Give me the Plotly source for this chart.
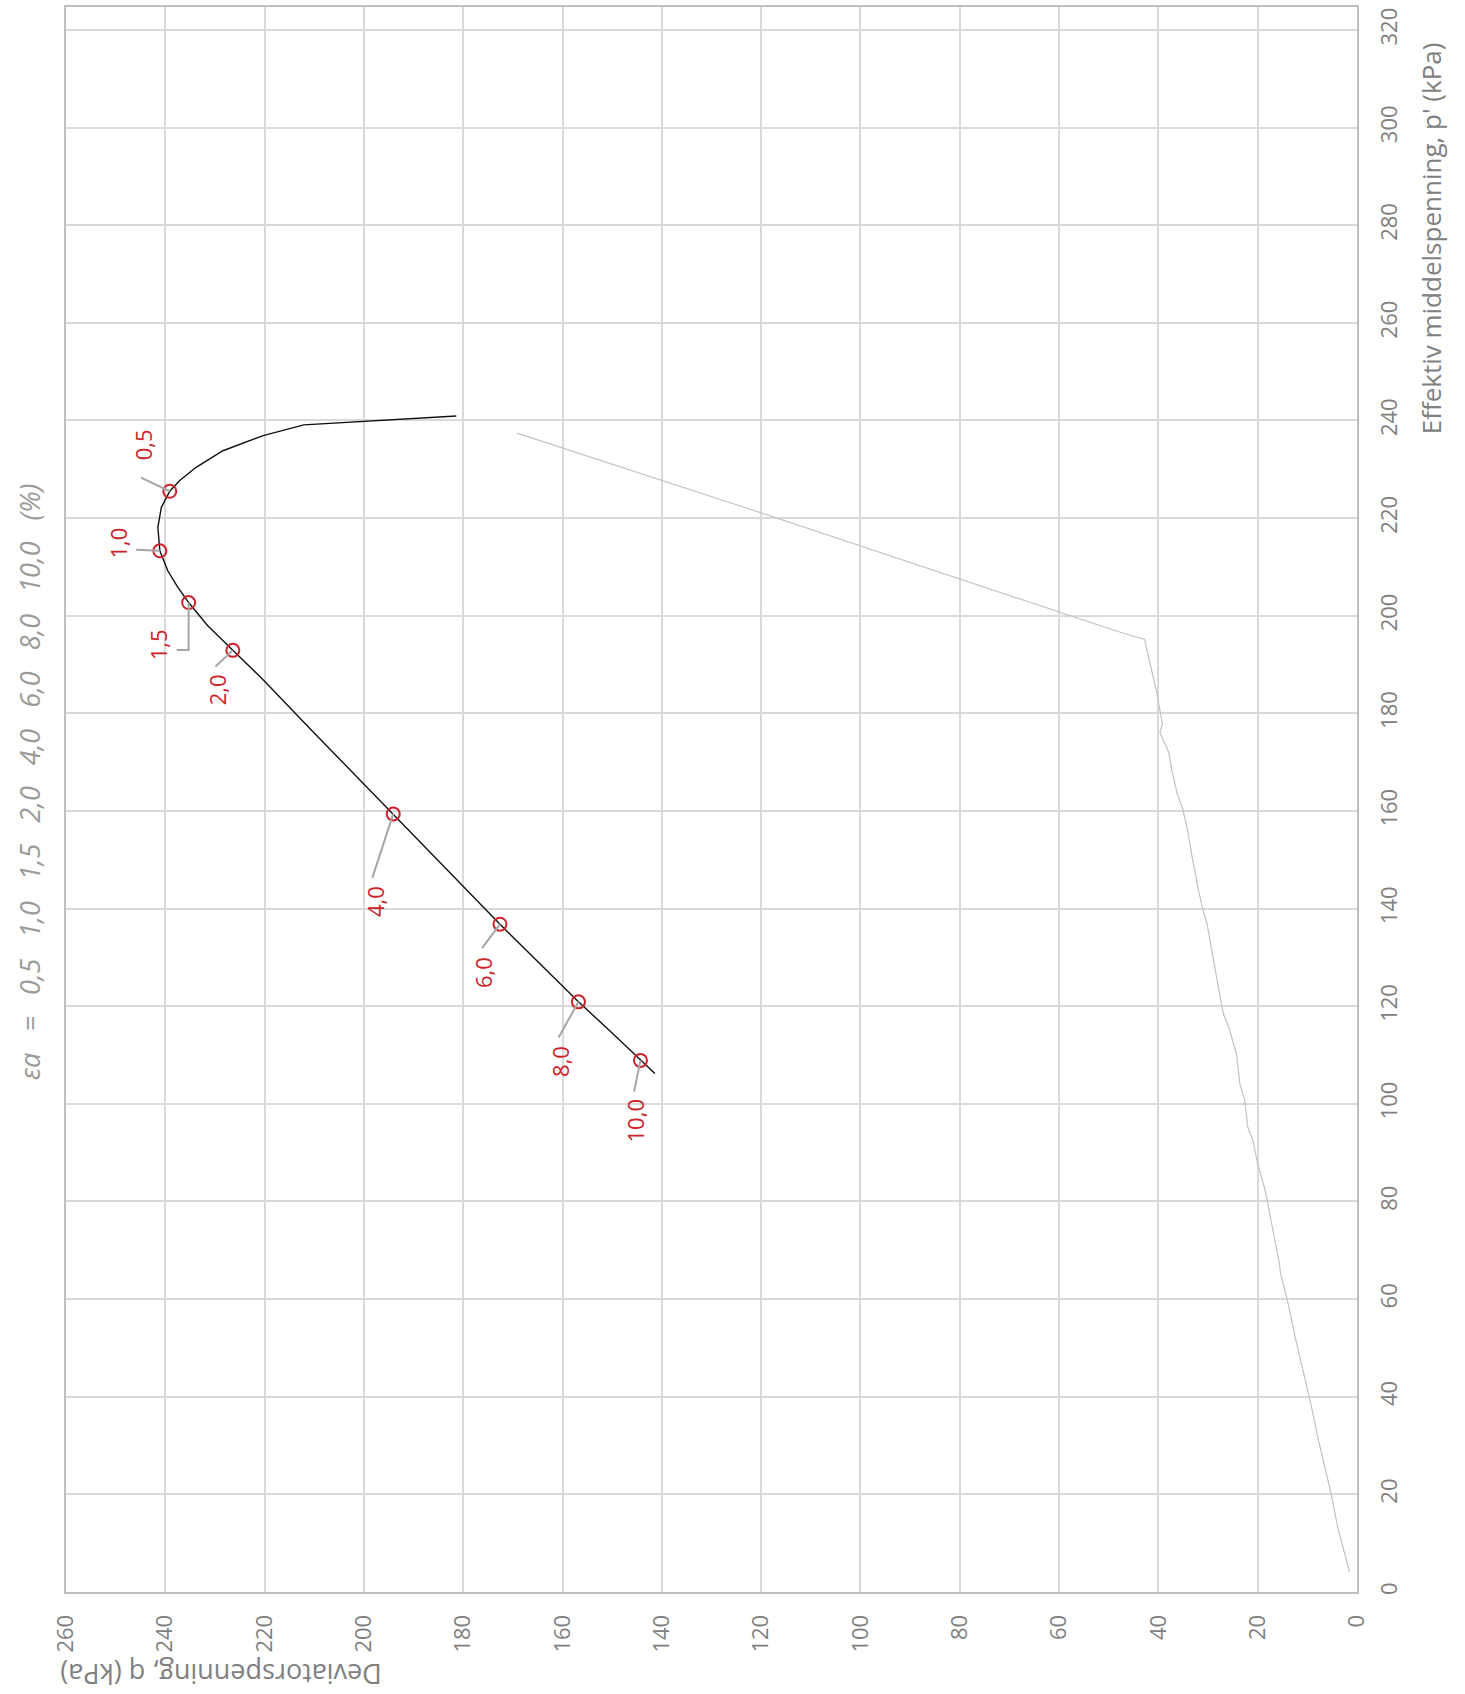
import plotly.graph_objects as go

# Effective stress path (black): q (kPa) and p' (kPa)
esp_q = [181.4, 212.1, 220.3, 228.4, 233.8, 237.1, 239.1, 240.8, 241.5, 241.1, 239.5, 237.6, 235.3,
         231.5, 226.4, 220.3, 210.6, 200.8, 194.1, 183.4, 172.6, 164.7, 156.8, 150.5, 144.3, 141.4]
esp_p = [240.9, 239.1, 236.9, 233.8, 230.4, 227.7, 225.5, 222.2, 218.1, 213.3, 209.2, 206.0, 202.7,
         198.0, 192.9, 186.9, 176.6, 166.4, 159.4, 148.1, 136.8, 128.8, 120.9, 115.0, 108.9, 106.2]

# Total stress path (grey)
tsp_q = [1.5, 2.6, 3.9, 5.2, 6.7, 7.9, 9.3, 10.6, 12.3, 14.0, 15.4, 15.6, 17.3, 18.5, 20.0,
         21.0, 22.0, 22.6, 23.6, 24.2, 25.8, 26.9, 27.8, 28.5, 30.2, 31.0, 31.9, 33.2, 34.1,
         35.1, 36.2, 37.4, 37.9, 39.7, 39.2, 40.4, 42.8, 46.7, 51.8, 122.2, 169.2]
tsp_p = [4.1, 8.5, 13.3, 20.1, 26.3, 31.7, 38.6, 44.0, 51.5, 59.7, 65.2, 67.2, 76.1, 82.3, 87.7,
         92.6, 95.2, 100.7, 104.1, 109.9, 115.7, 118.4, 123.2, 127.3, 136.9, 139.6, 143.7, 150.5, 156.0,
         160.4, 163.5, 168.9, 172.0, 176.1, 177.8, 184.6, 195.2, 196.3, 198.0, 221.8, 237.4]

# Strain markers
strain_labels = ["0,5", "1,0", "1,5", "2,0", "4,0", "6,0", "8,0", "10,0"]
mark_q = [239.1, 241.1, 235.3, 226.4, 194.1, 172.6, 156.8, 144.3]
mark_p = [225.5, 213.3, 202.7, 192.9, 159.4, 136.8, 120.9, 108.9]

# Label placement (q, p') and leader line start points
lab_q = [244.6, 249.5, 241.4, 229.7, 197.9, 176.0, 160.5, 145.4]
lab_p = [235.0, 214.8, 194.0, 184.8, 141.4, 126.8, 108.6, 96.4]
lead_q = [244.9, 245.9, 237.7, 229.9, 198.3, 176.2, 160.8, 145.6]
lead_p = [228.3, 213.5, 193.0, 189.6, 146.3, 131.9, 113.6, 102.5]

q_ticks = list(range(0, 261, 20))
p_ticks = list(range(0, 321, 20))

RED = "#cc2229"
GREY_TXT = "#808080"
FONT = "Open Sans"

fig = go.Figure()
fig.add_trace(go.Scatter(x=tsp_q, y=tsp_p, mode="lines",
                         line=dict(color="#c3c3c3", width=1.2), hoverinfo="skip"))
fig.add_trace(go.Scatter(x=esp_q, y=esp_p, mode="lines",
                         line=dict(color="#111111", width=1.4), hoverinfo="skip"))

shapes = []
for i in range(len(strain_labels)):
    if strain_labels[i] == "1,5":
        path = (f"M {lead_q[i]},{lead_p[i]} L {mark_q[i]},{lead_p[i]} L {mark_q[i]},{mark_p[i]}")
    else:
        path = f"M {lead_q[i]},{lead_p[i]} L {mark_q[i]},{mark_p[i]}"
    shapes.append(dict(type="path", path=path, xref="x", yref="y",
                       line=dict(color="#a6a6a6", width=2), layer="above"))

fig.add_trace(go.Scatter(x=mark_q, y=mark_p, mode="markers",
                         marker=dict(symbol="circle-open", size=13, color=RED,
                                     line=dict(width=2, color=RED)),
                         hoverinfo="skip"))

annotations = []
for i in range(len(strain_labels)):
    annotations.append(dict(x=lab_q[i], y=lab_p[i], xref="x", yref="y", text=strain_labels[i],
                            showarrow=False, textangle=-90, xanchor="center", yanchor="middle",
                            font=dict(family=FONT, size=22, color=RED)))

annotations.append(dict(x=0.12, y=-0.052, xref="paper", yref="paper",
                        text="Deviatorspenning, q (kPa)", showarrow=False, textangle=180,
                        xanchor="center", yanchor="middle",
                        font=dict(family=FONT, size=27, color=GREY_TXT)))
annotations.append(dict(x=1.058, y=0.854, xref="paper", yref="paper",
                        text="Effektiv middelspenning, p' (kPa)", showarrow=False, textangle=-90,
                        xanchor="center", yanchor="middle",
                        font=dict(family=FONT, size=26, color=GREY_TXT)))
sp = "\u00a0\u00a0\u00a0"
annotations.append(dict(x=-0.0287, y=0.511, xref="paper", yref="paper",
                        text="<i>" + "εa" + sp + "=" + sp + sp.join(["0,5", "1,0", "1,5", "2,0", "4,0", "6,0", "8,0", "10,0"]) + sp + "(%)</i>",
                        showarrow=False, textangle=-90, xanchor="center", yanchor="middle",
                        font=dict(family=FONT, size=27, color="#9a9a9a")))

fig.update_layout(
    width=1465, height=1694,
    margin=dict(l=66, r=108, t=7, b=102, autoexpand=False),
    paper_bgcolor="white", plot_bgcolor="white",
    showlegend=False,
    shapes=shapes, annotations=annotations,
    xaxis=dict(range=[260, 0], tickvals=q_ticks, ticktext=[str(v) for v in q_ticks],
               tickangle=-90, showgrid=True, gridcolor="#d9d9d9", gridwidth=1.5,
               zeroline=False, showline=True, linecolor="#bfbfbf", linewidth=2, mirror=True,
               ticks="", ticklabelstandoff=12, automargin=False,
               tickfont=dict(family=FONT, size=22, color=GREY_TXT)),
    yaxis=dict(range=[0, 324.7], tickvals=p_ticks, ticktext=[str(v) for v in p_ticks],
               side="right", tickangle=-90, showgrid=True, gridcolor="#d9d9d9", gridwidth=1.5,
               zeroline=False, showline=True, linecolor="#bfbfbf", linewidth=2, mirror=True,
               ticks="", ticklabelstandoff=12, automargin=False,
               tickfont=dict(family=FONT, size=22, color=GREY_TXT)),
)

fig.write_html("out.html", config={"displayModeBar": False},
               post_script="document.body.style.margin='0';")
